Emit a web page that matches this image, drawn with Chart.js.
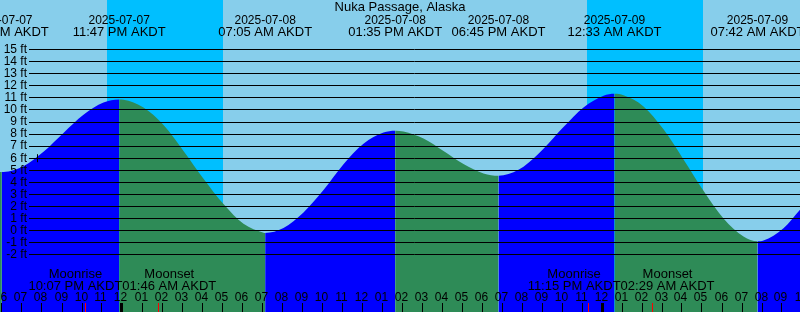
<!DOCTYPE html>
<html><head><meta charset="utf-8">
<script src="https://cdn.jsdelivr.net/npm/chart.js@4.4.1/dist/chart.umd.min.js"></script>
<style>
html,body{margin:0;padding:0;background:#87CEEB;overflow:hidden;}
#wrap{width:800px;height:312px;position:relative;}
</style>
</head><body>
<div id="wrap"><canvas id="c"></canvas></div>
<script>
// ---- DATA (times in hours relative to 2025-07-08 00:00 AKDT) ----
const chartTitle = "Nuka Passage, Alaska";
const tideTimes = [-6.175, -6.083, -6, -5, -4, -3, -2, -1, -0.217, 0, 1, 2, 3, 4, 5, 6, 7, 7.083,
  8, 9, 10, 11, 12, 13, 13.583, 14, 15, 16, 17, 18, 18.75, 19, 20, 21, 22, 23, 24, 24.55,
  25, 26, 27, 28, 29, 30, 31, 31.7, 32, 33, 33.825];
const tideHeights = [4.86, 4.85, 4.852, 5.34, 6.54, 8.1, 9.6, 10.62, 10.88, 10.86, 10.2, 8.75, 6.6, 4.3, 2.2, 0.55, -0.18, -0.2,
  0.21, 1.5, 3.36, 5.5, 7.2, 8.13, 8.28, 8.22, 7.63, 6.6, 5.51, 4.74, 4.55, 4.58, 5.3, 6.78, 8.58, 10.21, 11.19, 11.34,
  11.22, 10.3, 8.4, 5.9, 3.3, 1.0, -0.5, -0.9, -0.84, 0.18, 1.72];
const extremeTimes = [-6.083, -0.217, 7.083, 13.583, 18.75, 24.55, 31.7];
const extremeDates = ["2025-07-07","2025-07-07","2025-07-08","2025-07-08","2025-07-08","2025-07-09","2025-07-09"];
const extremeClock = ["05:55 PM AKDT","11:47 PM AKDT","07:05 AM AKDT","01:35 PM AKDT","06:45 PM AKDT","12:33 AM AKDT","07:42 AM AKDT"];
const moonTimes = [-1.883, 1.767, 23.25, 26.483];
const moonNames = ["Moonrise","Moonset","Moonrise","Moonset"];
const moonClock = ["10:07 PM AKDT","01:46 AM AKDT","11:15 PM AKDT","02:29 AM AKDT"];
const sunsetTimes = [-0.833, 23.15];
const sunriseTimes = [4.983, 29.0];
const hourTicks = [-6,-5,-4,-3,-2,-1,0,1,2,3,4,5,6,7,8,9,10,11,12,13,14,15,16,17,18,19,20,21,22,23,24,25,26,27,28,29,30,31,32,33,34];
const hourLabels = ["06","07","08","09","10","11","12","01","02","03","04","05","06","07","08","09","10","11",
  "12","01","02","03","04","05","06","07","08","09","10","11","12","01","02","03","04","05","06","07","08","09","10"];
const levelValues = [15,14,13,12,11,10,9,8,7,6,5,4,3,2,1,0,-1,-2];
const levelLabels = ["15 ft","14 ft","13 ft","12 ft","11 ft","10 ft","9 ft","8 ft","7 ft","6 ft","5 ft","4 ft","3 ft","2 ft","1 ft","0 ft","-1 ft","-2 ft"];
const nowTime = -4.3;
const nowLevel = 6;

// ---- STYLE ----
const DAY = "#87CEEB", NIGHT = "#00BFFF", RISE = "#0000FF", FALL = "#2E8B57";
const FAM = '"Liberation Sans", Arial, sans-serif';
const FONT12 = '12px ' + FAM;
const FONT13 = '13px ' + FAM;

const points = tideTimes.map((t, i) => ({x: t, y: tideHeights[i]}));

const decor = {
  id: 'decor',
  beforeDatasetsDraw(chart) {
    const ctx = chart.ctx, xs = chart.scales.x;
    ctx.save();
    ctx.fillStyle = DAY;
    ctx.fillRect(0, 0, chart.width, chart.height);
    ctx.fillStyle = NIGHT;
    for (let i = 0; i < sunsetTimes.length; i++) {
      const x0 = Math.round(xs.getPixelForValue(sunsetTimes[i]));
      const x1 = Math.round(xs.getPixelForValue(sunriseTimes[i]));
      ctx.fillRect(x0, 0, x1 - x0, chart.height);
    }
    ctx.restore();
  },
  afterDatasetsDraw(chart) {
    const ctx = chart.ctx, xs = chart.scales.x, ys = chart.scales.y;
    ctx.save();
    ctx.font = FONT12;
    ctx.fillStyle = "#000";
    ctx.strokeStyle = "#000";
    ctx.lineWidth = 1;
    // level lines + labels
    ctx.textAlign = "right";
    ctx.textBaseline = "middle";
    levelValues.forEach((v, i) => {
      const p = ys.getPixelForValue(v);
      const py = Math.floor(p) + 0.5;
      ctx.beginPath(); ctx.moveTo(29, py); ctx.lineTo(chart.width, py); ctx.stroke();
      ctx.fillText(levelLabels[i], 27, p);
    });
    // now marker
    {
      const nx = Math.round(xs.getPixelForValue(nowTime)) - 0.5;
      const ny = ys.getPixelForValue(nowLevel);
      ctx.beginPath(); ctx.moveTo(nx, ny - 4); ctx.lineTo(nx, ny + 4); ctx.stroke();
    }
    // hour ticks + labels
    ctx.textAlign = "center";
    ctx.textBaseline = "alphabetic";
    hourTicks.forEach((t, i) => {
      const col = Math.round(xs.getPixelForValue(t)) - 2;
      const midnight = (((t % 24) + 24) % 24) === 0;
      ctx.fillStyle = "#000";
      if (midnight) ctx.fillRect(col - 1, 303, 3, 9);
      else ctx.fillRect(col, 303, 1, 9);
      ctx.fillText(hourLabels[i], col - 0.5, 301);
    });
    // moon ticks
    ctx.fillStyle = "#FF0000";
    moonTimes.forEach(t => {
      const col = Math.round(xs.getPixelForValue(t)) - 1;
      ctx.fillRect(col, 303, 1, 9);
    });
    // moon labels (de-overlapped)
    ctx.fillStyle = "#000";
    ctx.font = FONT13;
    const widths = moonTimes.map((t, i) => Math.max(ctx.measureText(moonNames[i]).width, ctx.measureText(moonClock[i]).width));
    const centers = moonTimes.map(t => xs.getPixelForValue(t));
    for (let i = 0; i < centers.length - 1; i++) {
      const need = (widths[i] + widths[i + 1]) / 2;
      const d = centers[i + 1] - centers[i];
      if (d < need) {
        const s = (need - d) / 2;
        centers[i] -= s; centers[i + 1] += s;
      }
    }
    centers.forEach((c, i) => {
      ctx.fillText(moonNames[i], c, 278);
      ctx.fillText(moonClock[i], c, 290);
    });
    // extreme labels (top)
    extremeTimes.forEach((t, i) => {
      const c = xs.getPixelForValue(t);
      ctx.font = FONT12;
      ctx.fillText(extremeDates[i], c, 24);
      ctx.font = FONT13;
      ctx.fillText(extremeClock[i], c, 36);
    });
    // title
    ctx.font = FONT13;
    ctx.fillText(chartTitle, chart.width / 2, 11);
    ctx.restore();
  }
};

new Chart(document.getElementById('c'), {
  type: 'line',
  data: {
    datasets: [{
      data: points,
      fill: 'start',
      borderWidth: 0,
      borderColor: 'rgba(0,0,0,0)',
      backgroundColor: RISE,
      pointRadius: 0,
      cubicInterpolationMode: 'monotone',
      segment: {
        backgroundColor: c => (c.p1.parsed.y >= c.p0.parsed.y ? RISE : FALL)
      }
    }]
  },
  options: {
    responsive: true,
    maintainAspectRatio: false,
    animation: false,
    layout: {padding: 0},
    plugins: {legend: {display: false}, tooltip: {enabled: false}, title: {display: false}},
    events: [],
    scales: {
      x: {type: 'linear', display: false, min: -6.175, max: 33.825},
      y: {type: 'linear', display: false, min: -6.7635, max: 19.1286}
    }
  },
  plugins: [decor]
});
</script>
</body></html>
